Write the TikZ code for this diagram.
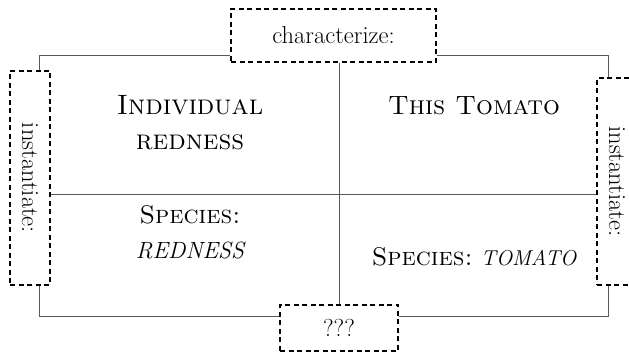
\documentclass[tikz,border=0pt]{standalone}
\usetikzlibrary{calc}
\begin{document}
\begin{tikzpicture}[x=1pt,y=-1pt,
  dbox/.style={draw=black,line width=1.2pt,dash pattern=on 5pt off 3.5pt,inner sep=0pt,font=\fontsize{24.5}{29}\selectfont},
  conn/.style={draw=black!65,line width=1pt},
  lab/.style={align=center,inner sep=0pt,font=\fontsize{28}{35}\selectfont}]
\useasboundingbox (0,0) rectangle (629,352);
\node[dbox,minimum width=205pt,minimum height=53pt] (char) at (333.5,35.5) {characterize:};
\node[dbox,minimum width=40pt,minimum height=214pt] (L) at (30,178) {\rotatebox{-90}{instantiate:}};
\node[dbox,minimum width=40pt,minimum height=207pt] (R) at (617,181.5) {\rotatebox{-90}{instantiate:}};
\node[dbox,minimum width=118pt,minimum height=46pt] (Q) at (339,328) {???};
\coordinate (mid) at (340,195);
\draw[conn] ([yshift=7pt]char.south west) -| ([xshift=-11pt]L.north east);
\draw[conn] ([yshift=7pt]char.south east) -| ([xshift=12pt]R.north west);
\draw[conn] ([xshift=-11pt]L.south east) |- ([yshift=-12pt]Q.north west);
\draw[conn] ([yshift=-12pt]Q.north east) -| ([xshift=12pt]R.south west);
\draw[conn] (Q.north) -- (Q.north |- char.south);
\draw[conn] (L.east |- mid) -- (R.west |- mid);
\node[lab] (tl) at (190,123) {\textsc{Individual}\\\textsc{redness}};
\node[lab,font=\fontsize{26.5}{33}\selectfont] (tr) at (474,106) {\textsc{This Tomato}};
\node[lab] (bl) at (190,232) {{\fontsize{25.5}{32}\selectfont\textsc{Species:}}\\{\itshape\fontsize{23.5}{28}\selectfont REDNESS}};
\node[lab,font=\fontsize{25.5}{32}\selectfont] (br) at (474,257) {\textsc{Species:}\hspace{-2pt} {\itshape\fontsize{21.5}{26}\selectfont TOMATO}};
\end{tikzpicture}
\end{document}
